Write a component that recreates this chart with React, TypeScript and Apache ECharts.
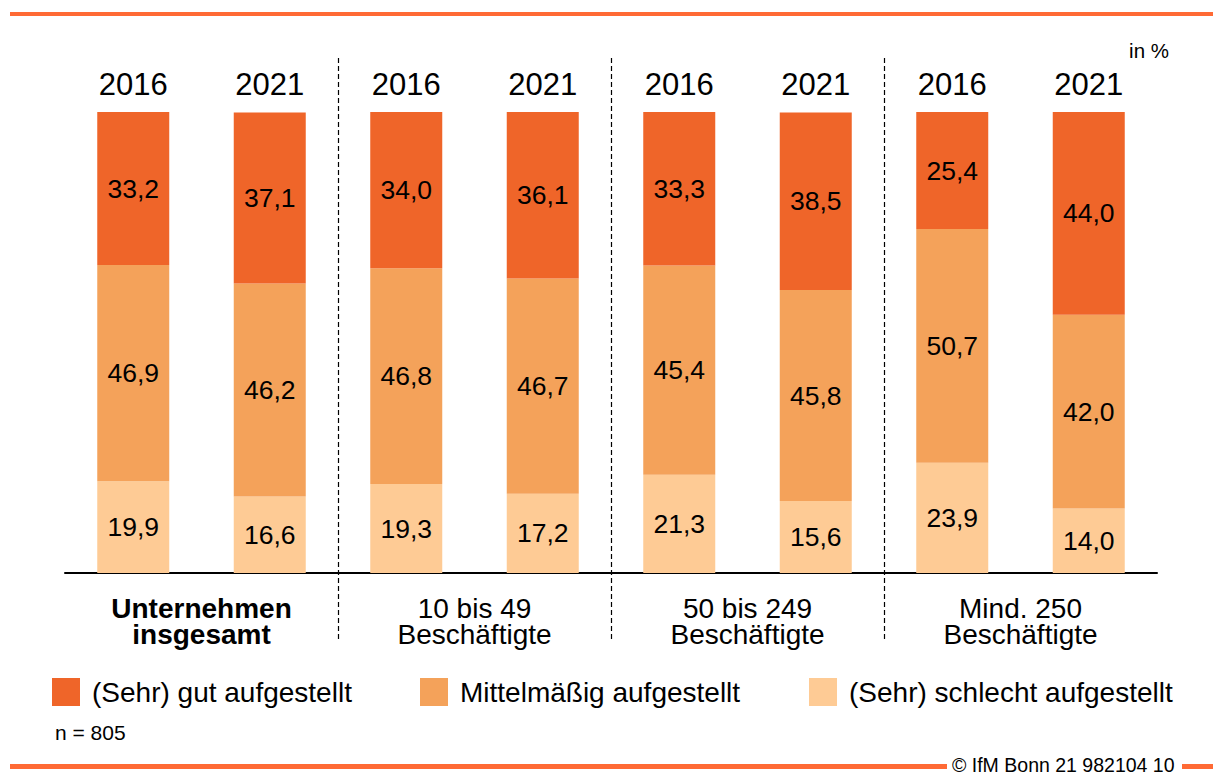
import React, { useEffect, useRef } from "react";
import * as echarts from "echarts";

const years = ["2016", "2021", "2016", "2021", "2016", "2021", "2016", "2021"];
const groups = [
  "Unternehmen\ninsgesamt",
  "10 bis 49\nBeschäftigte",
  "50 bis 249\nBeschäftigte",
  "Mind. 250\nBeschäftigte",
];
const seriesNames = [
  "(Sehr) gut aufgestellt",
  "Mittelmäßig aufgestellt",
  "(Sehr) schlecht aufgestellt",
];
const gut = [33.2, 37.1, 34.0, 36.1, 33.3, 38.5, 25.4, 44.0];
const mittel = [46.9, 46.2, 46.8, 46.7, 45.4, 45.8, 50.7, 42.0];
const schlecht = [19.9, 16.6, 19.3, 17.2, 21.3, 15.6, 23.9, 14.0];

const FONT = "'Liberation Sans', Arial, Helvetica, sans-serif";
const COLORS = ["#EF6529", "#F4A25A", "#FECB95"];
const ACCENT = "#FF6A35";

const W = 1216;
const H = 772;
const GRID = { left: 65, right: 59, top: 112, bottom: 199 };

export default function App() {
  const ref = useRef<HTMLDivElement>(null);

  useEffect(() => {
    if (!ref.current) return;
    const chart = echarts.init(ref.current, null, { renderer: "svg" });

    const fmt = (p: any) => Number(p.value).toFixed(1).replace(".", ",");
    const label = {
      show: true,
      position: "inside",
      color: "#000",
      fontSize: 26.5,
      fontFamily: FONT,
      formatter: fmt,
    };

    const plotW = W - GRID.left - GRID.right;
    const seps = [1, 2, 3].map((k) => {
      const x = Math.round(GRID.left + (plotW * k) / groups.length) + 0.5;
      return {
        type: "line",
        shape: { x1: x, y1: 58, x2: x, y2: 640 },
        style: { stroke: "#000", lineWidth: 1.2, lineDash: [5, 3] },
        silent: true,
      };
    });

    const legendPos = [52, 420, 809];
    const legends = [0, 1, 2].map((i) => ({
      show: true,
      data: [seriesNames[i]],
      left: legendPos[i],
      top: 678,
      padding: 0,
      icon: "rect",
      itemWidth: 28,
      itemHeight: 28,
      selectedMode: false,
      textStyle: {
        fontSize: 28,
        fontFamily: FONT,
        color: "#000",
        padding: [0, 0, 0, 7],
      },
    }));

    chart.setOption({
      animation: false,
      backgroundColor: "#fff",
      textStyle: { fontFamily: FONT },
      grid: { ...GRID },
      legend: legends,
      xAxis: [
        {
          type: "category",
          data: years,
          position: "top",
          axisLine: { show: false },
          axisTick: { show: false },
          axisLabel: {
            color: "#000",
            fontSize: 31,
            fontFamily: FONT,
            margin: 12,
          },
        },
        {
          type: "category",
          data: groups,
          position: "bottom",
          axisLine: { show: true, lineStyle: { color: "#000", width: 2 } },
          axisTick: { show: false },
          axisLabel: {
            margin: 22,
            formatter: (v: string, i: number) =>
              v
                .split("\n")
                .map((s) => (i === 0 ? `{b|${s}}` : `{n|${s}}`))
                .join("\n"),
            rich: {
              b: {
                fontSize: 28,
                fontWeight: "bold",
                fontFamily: FONT,
                color: "#000",
                lineHeight: 26,
              },
              n: {
                fontSize: 28,
                fontFamily: FONT,
                color: "#000",
                lineHeight: 26,
              },
            },
          },
        },
      ],
      yAxis: { type: "value", min: 0, max: 100, show: false },
      series: [
        {
          name: seriesNames[2],
          type: "bar",
          stack: "s",
          xAxisIndex: 0,
          data: schlecht,
          barWidth: 72,
          itemStyle: { color: COLORS[2] },
          label,
        },
        {
          name: seriesNames[1],
          type: "bar",
          stack: "s",
          xAxisIndex: 0,
          data: mittel,
          barWidth: 72,
          itemStyle: { color: COLORS[1] },
          label,
        },
        {
          name: seriesNames[0],
          type: "bar",
          stack: "s",
          xAxisIndex: 0,
          data: gut,
          barWidth: 72,
          itemStyle: { color: COLORS[0] },
          label,
        },
      ],
      graphic: [
        {
          type: "rect",
          shape: { x: 10, y: 12, width: 1203, height: 4 },
          style: { fill: ACCENT },
          silent: true,
        },
        {
          type: "rect",
          shape: { x: 10, y: 764, width: 937, height: 5 },
          style: { fill: ACCENT },
          silent: true,
        },
        {
          type: "rect",
          shape: { x: 1182, y: 764, width: 31, height: 5 },
          style: { fill: ACCENT },
          silent: true,
        },
        ...seps,
        {
          type: "text",
          x: 1169,
          y: 50,
          style: {
            text: "in %",
            fontSize: 20.5,
            fontFamily: FONT,
            fill: "#000",
            align: "right",
            verticalAlign: "middle",
          },
          silent: true,
        },
        {
          type: "text",
          x: 55,
          y: 732,
          style: {
            text: "n = 805",
            fontSize: 21,
            fontFamily: FONT,
            fill: "#000",
            align: "left",
            verticalAlign: "middle",
          },
          silent: true,
        },
        {
          type: "text",
          x: 952,
          y: 755,
          style: {
            text: "© IfM Bonn 21 982104 10",
            fontSize: 19.5,
            fontFamily: FONT,
            fill: "#000",
            align: "left",
            verticalAlign: "top",
          },
          silent: true,
        },
      ],
    });

    return () => chart.dispose();
  }, []);

  return (
    <div
      ref={ref}
      style={{ position: "fixed", left: 0, top: 0, width: W, height: H }}
    />
  );
}
